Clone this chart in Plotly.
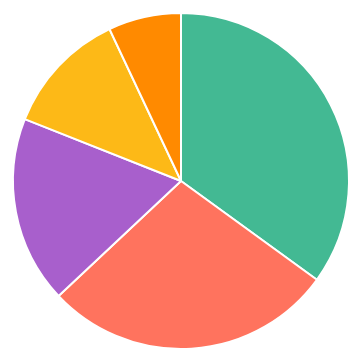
import plotly.graph_objects as go

labels = ["A", "B", "C", "D", "E"]
values = [35, 28, 18, 12, 7]
colors = ["#43B993", "#FF735E", "#A85FCC", "#FDB917", "#FF8A00"]

fig = go.Figure(go.Pie(
    labels=labels,
    values=values,
    sort=False,
    direction="clockwise",
    rotation=0,
    marker=dict(colors=colors, line=dict(color="white", width=2)),
    textinfo="none",
    hoverinfo="label+value",
))
fig.update_layout(
    width=364, height=364,
    margin=dict(l=13, r=15, t=13, b=15),
    showlegend=False,
    paper_bgcolor="white",
    plot_bgcolor="white",
)
fig.write_html("out.html")
